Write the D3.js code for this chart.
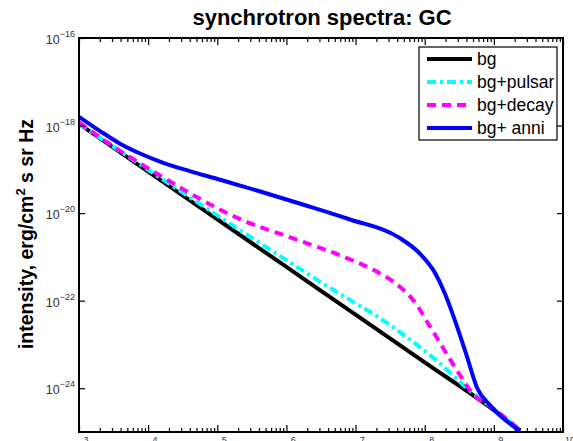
<!DOCTYPE html>
<meta charset="utf-8">
<style>
  body { margin: 0; background: #fff; }
  svg { display: block; font-family: "Liberation Sans", Arial, sans-serif; }
  .tick-label { fill: #333; }
</style>
<body>
<div id="chart"></div>
<script src="https://d3js.org/d3.v7.min.js"></script>
<script>
  // log10 of frequency and log10 of intensity
  const bgLogNu = [3, 4, 5, 6, 7, 8, 9, 9.38];
  const bgLogI = [-17.96, -19.05, -20.14, -21.23, -22.32, -23.41, -24.50, -24.96];

  const pulsarLogNu = [3, 4, 5.3, 6.5, 7.6, 8.15, 8.65, 9.0, 9.38];
  const pulsarLogI = [-17.96, -19.01, -20.36, -21.58, -22.67, -23.34, -24.05, -24.48, -24.96];

  const decayLogNu = [3, 3.35, 4.17, 5.32, 6.19, 6.91, 7.3, 7.63, 7.85, 8.08, 8.37, 8.51, 8.68, 9.0, 9.38];
  const decayLogI = [-17.93, -18.32, -19.14, -20.13, -20.63, -21.05, -21.33, -21.67, -22.02, -22.60, -23.35, -23.70, -24.10, -24.47, -24.96];

  const anniLogNu = [3, 3.3, 3.6, 3.9, 4.2, 4.6, 5.0, 5.61, 6.19, 6.91, 7.63, 7.92, 8.15, 8.29, 8.43, 8.6, 8.76, 8.94, 9.38];
  const anniLogI = [-17.80, -18.12, -18.42, -18.65, -18.84, -19.04, -19.22, -19.50, -19.78, -20.14, -20.56, -20.91, -21.37, -21.83, -22.42, -23.22, -24.0, -24.38, -24.98];

  const seriesNames = ["bg", "bg+pulsar", "bg+decay", "bg+ anni"];
  const xTickExp = [3, 4, 5, 6, 7, 8, 9, 10];
  const yTickExp = [-16, -18, -20, -22, -24];

  const W = 573, H = 441;
  const pLeft = 79, pRight = 563, pTop = 38, pBottom = 432;

  const x = d3.scaleLog().domain([1e3, 1e10]).range([pLeft, pRight]);
  const y = d3.scaleLog().domain([1e-25, 1e-16]).range([pBottom, pTop]);

  const styles = [
    {color: "#000000", dash: null, width: 4},
    {color: "#00ffff", dash: "9,4,3,4", width: 4},
    {color: "#ff00ff", dash: "9,6", width: 4},
    {color: "#0000ff", dash: null, width: 4}
  ];

  const series = [
    [bgLogNu, bgLogI],
    [pulsarLogNu, pulsarLogI],
    [decayLogNu, decayLogI],
    [anniLogNu, anniLogI]
  ].map(([nu, I], i) => ({
    name: seriesNames[i],
    style: styles[i],
    points: nu.map((v, j) => ({nu: Math.pow(10, v), I: Math.pow(10, I[j])}))
  }));

  const svg = d3.select("#chart").append("svg")
    .attr("width", W)
    .attr("height", H);

  svg.append("clipPath").attr("id", "plotclip")
    .append("rect")
    .attr("x", pLeft).attr("y", pTop)
    .attr("width", pRight - pLeft).attr("height", pBottom - pTop);

  const line = d3.line()
    .x(d => x(d.nu))
    .y(d => y(d.I))
    .curve(d3.curveMonotoneX);

  svg.append("g")
    .attr("clip-path", "url(#plotclip)")
    .selectAll("path")
    .data(series)
    .join("path")
    .attr("d", d => line(d.points))
    .attr("fill", "none")
    .attr("stroke", d => d.style.color)
    .attr("stroke-width", d => d.style.width)
    .attr("stroke-dasharray", d => d.style.dash)
    .attr("stroke-linejoin", "round");

  // x ticks (inward, top and bottom, minor ones shorter)
  const xTicks = x.ticks();
  const isMajor = v => Math.abs(Math.log10(v) - Math.round(Math.log10(v))) < 1e-9;
  const xAxisBottom = d3.axisBottom(x).tickValues(xTicks).tickSizeInner(-4).tickSizeOuter(0).tickFormat("");
  const xAxisTop = d3.axisTop(x).tickValues(xTicks).tickSizeInner(-4).tickSizeOuter(0).tickFormat("");

  const gxb = svg.append("g").attr("transform", `translate(0,${pBottom})`).call(xAxisBottom);
  const gxt = svg.append("g").attr("transform", `translate(0,${pTop})`).call(xAxisTop);
  gxb.selectAll(".tick line").filter(isMajor).attr("y2", -7);
  gxt.selectAll(".tick line").filter(isMajor).attr("y2", 7);

  const yTicks = yTickExp.map(e => Math.pow(10, e));
  const gyl = svg.append("g").attr("transform", `translate(${pLeft},0)`)
    .call(d3.axisLeft(y).tickValues(yTicks).tickSizeInner(-6).tickSizeOuter(0).tickFormat(""));
  const gyr = svg.append("g").attr("transform", `translate(${pRight},0)`)
    .call(d3.axisRight(y).tickValues(yTicks).tickSizeInner(-6).tickSizeOuter(0).tickFormat(""));

  [gxb, gxt, gyl, gyr].forEach(g => {
    g.select(".domain").remove();
    g.selectAll(".tick line").attr("stroke", "#000").attr("stroke-width", 1.2);
  });

  // frame
  svg.append("rect")
    .attr("x", pLeft).attr("y", pTop)
    .attr("width", pRight - pLeft).attr("height", pBottom - pTop)
    .attr("fill", "none")
    .attr("stroke", "#000")
    .attr("stroke-width", 2);

  // tick labels with superscripts
  svg.selectAll("text.ylab")
    .data(yTickExp)
    .join("text")
    .attr("class", "tick-label")
    .attr("x", pLeft - 4)
    .attr("y", d => y(Math.pow(10, d)) + 6)
    .attr("text-anchor", "end")
    .attr("font-size", 12.5)
    .each(function(d) {
      const t = d3.select(this);
      t.append("tspan").text("10");
      t.append("tspan").attr("dy", -7).attr("font-size", 9).text("\u2212" + Math.abs(d));
    });

  // x labels sit mostly below the window, as in the original figure
  svg.selectAll("text.xlab")
    .data(xTickExp)
    .join("text")
    .attr("class", "tick-label")
    .attr("x", d => x(Math.pow(10, d)))
    .attr("y", pBottom + 19)
    .attr("text-anchor", "middle")
    .attr("font-size", 12.5)
    .each(function(d) {
      const t = d3.select(this);
      t.append("tspan").text("10");
      t.append("tspan").attr("dy", -8).attr("font-size", 9).text(d);
    });

  // title and axis label
  svg.append("text")
    .attr("x", 322)
    .attr("y", 25)
    .attr("text-anchor", "middle")
    .attr("font-size", 22)
    .attr("font-weight", "bold")
    .text("synchrotron spectra: GC");

  const ylab = svg.append("text")
    .attr("transform", "translate(33,234) rotate(-90)")
    .attr("text-anchor", "middle")
    .attr("font-size", 19.5)
    .attr("font-weight", "bold");
  ylab.append("tspan").text("intensity, erg/cm");
  ylab.append("tspan").attr("dy", -8).attr("font-size", 13).text("2");
  ylab.append("tspan").attr("dy", 8).text(" s sr Hz");

  // legend
  const lg = {x: 419, y: 47, w: 138, h: 93};
  svg.append("clipPath").attr("id", "legclip")
    .append("rect").attr("x", lg.x).attr("y", lg.y).attr("width", lg.w).attr("height", lg.h);

  const legend = svg.append("g");
  legend.append("rect")
    .attr("x", lg.x).attr("y", lg.y)
    .attr("width", lg.w).attr("height", lg.h)
    .attr("fill", "#fff")
    .attr("stroke", "#000")
    .attr("stroke-width", 1.2);

  const items = legend.append("g").attr("clip-path", "url(#legclip)")
    .selectAll("g")
    .data(series)
    .join("g")
    .attr("transform", (d, i) => `translate(0,${59 + i * 23})`);

  items.append("line")
    .attr("x1", 427).attr("x2", 472)
    .attr("stroke", d => d.style.color)
    .attr("stroke-width", d => d.style.width)
    .attr("stroke-dasharray", d => d.style.dash);

  items.append("text")
    .attr("x", 477)
    .attr("y", 5.5)
    .attr("font-size", 17.5)
    .text(d => d.name);
</script>
</body>
